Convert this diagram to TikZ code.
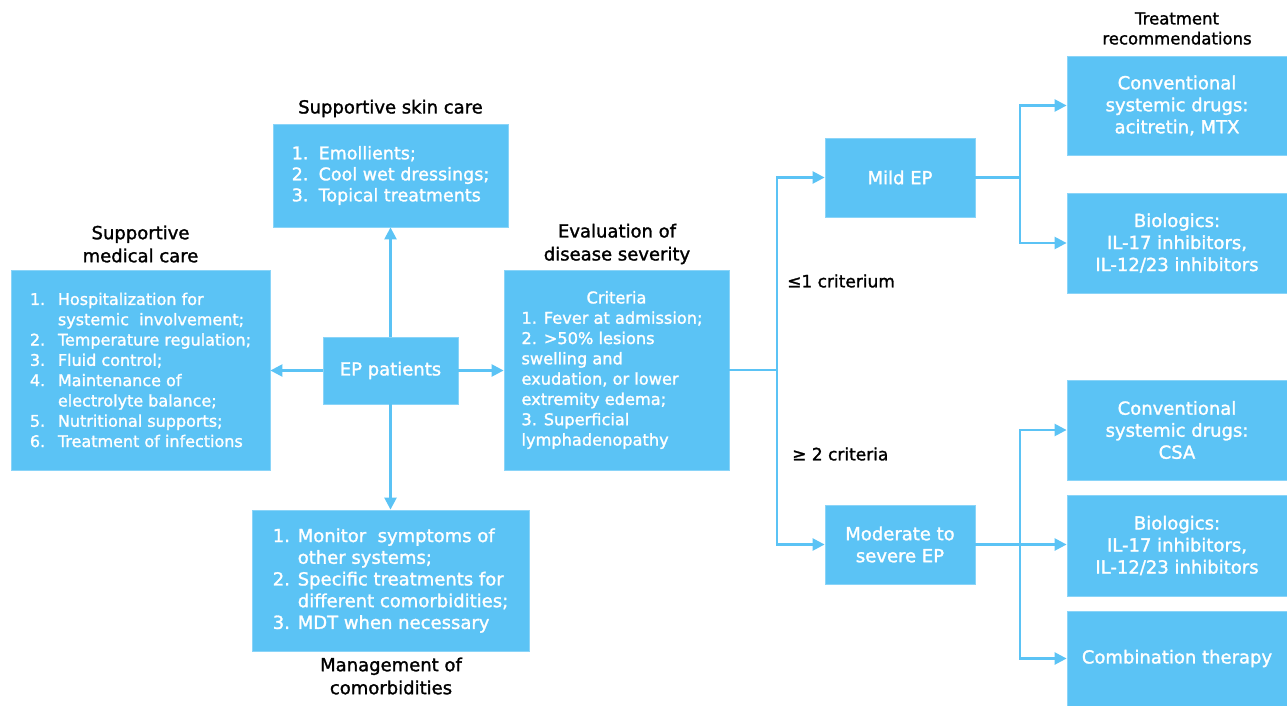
\documentclass[tikz,border=0pt]{standalone}
\usepackage{fontspec}
\setmainfont{DejaVu Sans}[FakeBold=1.5]
\usetikzlibrary{arrows.meta}
\definecolor{boxblue}{HTML}{5BC3F5}
\definecolor{boxedge}{HTML}{8AD4F8}
\newcommand\nm[2]{\makebox[#1][l]{#2}}
\tikzset{
  box/.style={fill=boxblue, draw=boxedge, line width=0.8pt, text=white, inner sep=0pt, align=center},
  conn/.style={draw=boxblue, line width=2.4pt},
  arr/.style={conn, -{Triangle[length=12pt,width=12pt]}},
  ttl/.style={text=black, align=center, inner sep=0pt, font=\fontsize{18}{23}\selectfont},
  lbl/.style={text=black, anchor=west, inner sep=0pt, font=\fontsize{17}{20}\selectfont},
}
\begin{document}
\begin{tikzpicture}[x=1pt,y=-1pt]
\useasboundingbox (0,0) rectangle (1287,706);
% boxes
\node[box, minimum width=235pt, minimum height=103pt, align=left,
  font=\fontsize{17.5}{21}\selectfont] (skin) at (390.5,175.5)
  {\nm{27pt}{1.}Emollients;\\\nm{27pt}{2.}Cool wet dressings;\\\nm{27pt}{3.}Topical treatments};
\node[box, minimum width=259pt, minimum height=200pt, align=left,
  font=\fontsize{16}{20.3}\selectfont] (med) at (140.5,370)
  {\nm{28pt}{1.}Hospitalization for\\\hspace*{28pt}systemic\ \ involvement;\\
   \nm{28pt}{2.}Temperature regulation;\\\nm{28pt}{3.}Fluid control;\\
   \nm{28pt}{4.}Maintenance of\\\hspace*{28pt}electrolyte balance;\\
   \nm{28pt}{5.}Nutritional supports;\\\nm{28pt}{6.}Treatment of infections};
\node[box, minimum width=135pt, minimum height=67pt,
  font=\fontsize{18}{22}\selectfont] (ep) at (390.5,370.5) {EP patients};
\node[box, minimum width=225pt, minimum height=200pt, align=left,
  font=\fontsize{16.2}{20.3}\selectfont] (eval) at (616.5,370)
  {\makebox[190pt][c]{Criteria}\\1. Fever at admission;\\2. >50\% lesions\\swelling and\\exudation, or lower\\extremity edema;\\3. Superficial\\lymphadenopathy};
\node[box, minimum width=277pt, minimum height=141pt, align=left,
  font=\fontsize{18}{21.7}\selectfont] (com) at (390.5,580.5)
  {\nm{25pt}{1.}Monitor\ \ symptoms of\\\hspace*{25pt}other systems;\\
   \nm{25pt}{2.}Specific treatments for\\\hspace*{25pt}different comorbidities;\\
   \nm{25pt}{3.}MDT when necessary};
\node[box, minimum width=150pt, minimum height=79pt,
  font=\fontsize{18}{22}\selectfont] (mild) at (900,177.5) {Mild EP};
\node[box, minimum width=150pt, minimum height=79pt,
  font=\fontsize{18}{22}\selectfont] (mod) at (900,544.5) {Moderate to\\severe EP};
\node[box, minimum width=220pt, minimum height=99pt,
  font=\fontsize{18}{22}\selectfont] (c1) at (1177,105.5) {Conventional\\systemic drugs:\\acitretin, MTX};
\node[box, minimum width=220pt, minimum height=100pt,
  font=\fontsize{18}{22}\selectfont] (b1) at (1177,243) {Biologics:\\IL-17 inhibitors,\\IL-12/23 inhibitors};
\node[box, minimum width=220pt, minimum height=100pt,
  font=\fontsize{18}{22}\selectfont] (c2) at (1177,430) {Conventional\\systemic drugs:\\CSA};
\node[box, minimum width=220pt, minimum height=101pt,
  font=\fontsize{18}{22}\selectfont] (b2) at (1177,545.5) {Biologics:\\IL-17 inhibitors,\\IL-12/23 inhibitors};
\node[box, minimum width=220pt, minimum height=95pt,
  font=\fontsize{18}{22}\selectfont] (cmb) at (1177,658.5) {\raisebox{-3pt}{Combination therapy}};
% titles
\node[ttl] (tskin) at (390.5,108.5) {Supportive skin care};
\node[ttl] (tmed) at (140.5,244) {Supportive\\medical care};
\node[ttl] (teval) at (617,244) {Evaluation of\\disease severity};
\node[ttl] (tcom) at (391,676) {Management of\\comorbidities};
\node[ttl, font=\fontsize{16.5}{20}\selectfont] (ttr) at (1177,28.5) {Treatment\\recommendations};
\node[lbl] (l1) at (787,281) {≤1 criterium};
\node[lbl] (l2) at (792,454) {≥ 2 criteria};
% connectors
\draw[arr] (ep.north) -- (skin.south);
\draw[arr] (ep.south) -- (com.north);
\draw[arr] (ep.west) -- (ep.west -| med.east);
\draw[arr] (ep.east) -- (ep.east -| eval.west);
\coordinate (s1) at (777,370);
\draw[conn] (eval.east) -- (s1);
\draw[arr] (s1) |- (mild.west);
\draw[arr] (s1) |- (mod.west);
\coordinate (s2) at (1020,177.5);
\draw[conn] (mild.east) -- (s2);
\draw[arr] (s2) |- (c1.west);
\draw[arr] (s2) |- (b1.west);
\coordinate (s3) at (1020,544.5);
\draw[conn] (mod.east) -- (s3);
\draw[arr] (s3) |- (c2.west);
\draw[arr] (s3) -- (s3 -| b2.west);
\draw[arr] (s3) |- (cmb.west);
\end{tikzpicture}
\end{document}
